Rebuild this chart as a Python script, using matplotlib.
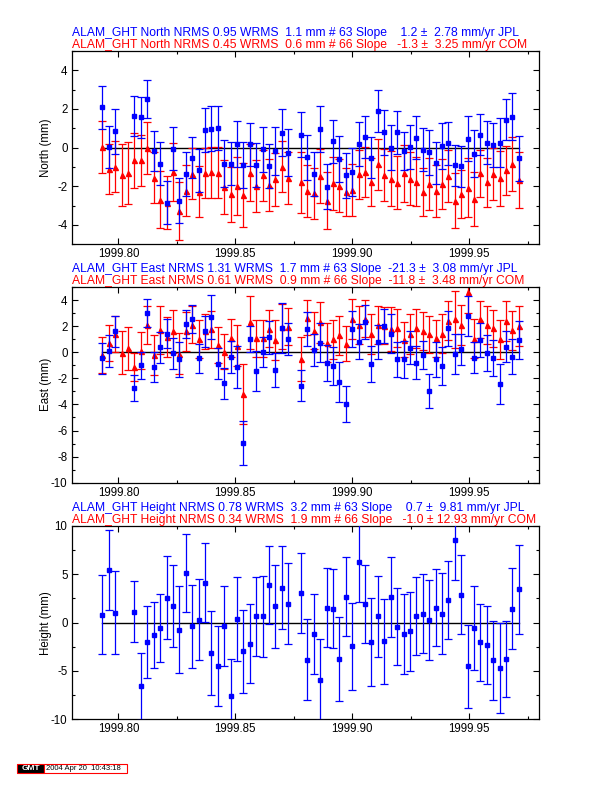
import numpy as np
import matplotlib
matplotlib.use('Agg')
import matplotlib.pyplot as plt
from matplotlib.ticker import MultipleLocator, FormatStrFormatter
from matplotlib.patches import Rectangle

plt.rcParams['font.family'] = ['Liberation Sans', 'DejaVu Sans']
plt.rcParams['axes.unicode_minus'] = False

nan = np.nan

# day of year 1999, one solution per day
doy = [290, 291, 292, 293, 294, 295, 296, 297, 298, 299,
       300, 301, 302, 303, 304, 305, 306, 307, 308, 309,
       310, 311, 312, 313, 314, 315, 316, 317, 318, 319,
       320, 321, 322, 323, 324, 325, 326, 327, 328, 329,
       330, 331, 332, 333, 334, 335, 336, 337, 338, 339,
       340, 341, 342, 343, 344, 345, 346, 347, 348, 349,
       350, 351, 352, 353, 354, 355]

# North (mm)
north_jpl = [2.08, 0.03, 0.84, nan, nan, 1.64, 1.57, 2.51, -0.19, -0.82,
             -2.84, -0.05, -2.74, -1.38, -0.51, -1.16, 0.92, 0.97, 1.03, -0.82,
             -0.82, 0.2, -0.9, 0.17, -0.9, -0.09, -0.96, -0.15, 0.77, -0.26,
             nan, 0.67, -0.5, -1.38, 0.97, -2.02, 0.32, -0.6, -1.44, -1.26,
             0.2, 0.56, -0.51, 1.9, 0.79, 0.0, 0.79, -0.17, 0.05, 0.51,
             -0.1, -0.24, -0.8, 0.09, 0.22, -0.92, -0.97, 0.46, -0.31, 0.68,
             0.26, 0.15, 0.26, 1.44, 1.6, -0.56]
north_jpl_err = [1.13, 1.1, 1.15, nan, nan, 1.03, 1.06, 1.0, 1.03, 1.1,
                 1.12, 1.13, 1.15, 1.14, 1.07, 1.11, 1.14, 1.16, 1.15, 1.21,
                 1.11, 1.19, 1.2, 1.13, 1.15, 1.18, 1.15, 1.24, 1.22, 1.22,
                 nan, 1.16, 1.17, 1.14, 1.17, 1.15, 1.1, 1.2, 1.14, 1.24,
                 1.13, 1.1, 1.08, 1.1, 1.18, 1.15, 1.13, 1.0, 1.13, 1.12,
                 1.1, 1.15, 1.1, 1.2, 1.13, 1.07, 1.08, 1.17, 1.21, 1.08,
                 1.12, 1.13, 1.28, 1.06, 1.21, 1.18]
north_com = [0.03, -1.1, -1.0, -1.42, -1.33, -0.65, -0.66, 0.0, -1.55, -2.7,
             -2.86, -1.28, -3.27, -2.23, -1.36, -2.27, -1.3, -1.27, -1.3, -2.02,
             -2.42, -1.98, -2.43, -1.3, -1.97, -1.42, -1.93, -1.64, -1.0, -1.56,
             nan, -1.8, -2.24, -2.36, -1.47, -2.74, -1.85, -1.97, -2.29, -2.19,
             -1.38, -1.26, -1.76, -0.85, -1.42, -1.6, -1.81, -1.32, -1.6, -1.76,
             -2.29, -1.88, -2.26, -1.88, -1.47, -2.74, -2.38, -2.07, -2.65, -1.32,
             -1.8, -1.35, -1.59, -1.16, -0.85, -1.69]
north_com_err = [1.33, 1.3, 1.32, 1.62, 1.61, 1.43, 1.32, 1.34, 1.3, 1.48,
                 1.37, 1.5, 1.5, 1.32, 1.32, 1.34, 1.28, 1.31, 1.31, 1.39,
                 1.43, 1.48, 1.66, 1.47, 1.34, 1.32, 1.36, 1.37, 1.32, 1.36,
                 nan, 1.6, 1.34, 1.31, 1.41, 1.48, 1.35, 1.38, 1.25, 1.35,
                 1.27, 1.3, 1.25, 1.32, 1.35, 1.43, 1.37, 1.47, 1.35, 1.28,
                 1.25, 1.35, 1.35, 1.31, 1.35, 1.41, 1.24, 1.54, 1.41, 1.21,
                 1.28, 1.35, 1.44, 1.27, 1.39, 1.44]

# East (mm)
east_jpl = [-0.46, 0.1, 1.59, nan, nan, -2.76, -1.0, 3.0, -1.15, 0.38,
            1.41, -0.08, -0.54, 2.15, 2.56, -0.46, 1.59, 2.69, -0.87, -2.38,
            -0.36, -1.15, -6.93, 1.0, -1.43, 0.03, 1.15, -1.38, 1.84, 1.0,
            nan, -2.58, 1.79, 0.18, 0.74, -0.84, -1.05, -2.28, -3.99, 1.79,
            0.82, 2.33, -0.9, 0.77, 2.02, 1.41, -0.54, -0.54, 0.36, -0.79,
            -0.2, -2.97, -0.54, -1.05, 1.82, -0.13, 0.23, 2.79, -0.43, 0.92,
            -0.08, -0.46, -2.43, 0.41, -0.33, 0.95]
east_jpl_err = [1.2, 1.2, 1.2, nan, nan, 1.0, 1.05, 1.05, 1.15, 1.18,
                1.1, 1.2, 1.35, 1.06, 1.09, 1.1, 1.2, 1.68, 1.2, 1.18,
                1.2, 1.6, 1.69, 1.0, 1.55, 1.15, 1.25, 1.3, 1.9, 1.22,
                nan, 1.19, 1.28, 1.21, 1.47, 1.38, 1.45, 1.53, 1.37, 1.39,
                1.37, 1.3, 1.35, 1.28, 1.3, 1.5, 1.36, 1.43, 1.28, 1.29,
                1.09, 1.28, 1.34, 1.43, 1.34, 1.51, 1.19, 1.51, 1.19, 1.29,
                1.38, 1.39, 1.5, 1.18, 1.32, 1.45]
east_com = [-0.2, 0.69, 1.41, -0.03, 0.3, -1.13, 0.13, 2.1, -0.2, 1.71,
            1.18, 1.59, -0.1, 1.59, 2.12, 1.02, 1.59, 1.76, 0.56, 0.05,
            1.07, 0.51, -3.2, 2.28, 1.07, 1.07, 1.79, 0.95, 1.94, 1.97,
            nan, -0.51, 2.66, 1.64, 2.28, 0.74, 1.0, 1.3, 0.66, 2.53,
            2.07, 2.56, 1.43, 2.07, 2.02, 1.79, 1.87, 0.97, 1.41, 1.82,
            1.64, 1.36, 1.07, 1.43, 2.43, 2.53, 2.07, 4.6, 1.05, 2.53,
            2.1, 1.82, 1.0, 2.4, 1.69, 2.02]
east_com_err = [1.4, 1.38, 1.38, 1.64, 1.66, 1.1, 1.4, 1.47, 1.55, 1.85,
                1.53, 1.64, 1.6, 1.46, 1.41, 1.47, 1.35, 1.43, 1.37, 1.36,
                1.47, 1.6, 2.28, 2.02, 1.42, 1.41, 1.42, 1.51, 1.73, 1.41,
                nan, 1.68, 1.34, 1.41, 1.56, 1.5, 1.5, 1.5, 1.37, 1.53,
                1.45, 1.41, 1.53, 1.47, 1.41, 1.66, 1.47, 1.34, 1.53, 1.53,
                1.47, 1.41, 1.41, 1.47, 1.47, 2.17, 1.53, 1.6, 1.47, 1.41,
                1.45, 1.4, 1.5, 1.55, 1.5, 1.55]

# Height (mm), only JPL is drawn
up_jpl = [0.83, 5.42, 1.04, nan, nan, 1.14, -6.59, -1.97, -1.31, -0.52,
          2.59, 1.73, -0.72, 5.11, -0.38, 0.31, 4.14, -3.1, -4.49, -0.35,
          -7.63, 0.35, -2.97, -2.17, 0.66, 0.66, 3.93, 1.69, 3.62, 1.97,
          nan, 3.1, -3.83, -1.14, -5.9, 1.55, 1.45, -3.73, 2.69, -2.45,
          6.28, 1.97, -2.0, 0.66, -1.93, 2.69, -0.41, -1.14, -0.9, 0.66,
          0.93, 0.24, 1.55, 0.93, 2.31, 8.59, 2.9, -4.52, -0.55, -2.04,
          -2.28, -3.9, -4.66, -3.73, 1.45, 3.45]
up_jpl_err = [4.05, 4.14, 4.26, nan, nan, 3.14, 3.45, 3.73, 3.42, 3.52,
              4.28, 4.28, 4.47, 4.05, 4.31, 4.17, 4.05, 4.35, 4.14, 4.16,
              3.9, 4.33, 4.3, 4.09, 4.07, 4.19, 4.02, 4.3, 4.31, 4.23,
              nan, 4.14, 4.2, 4.14, 4.17, 4.07, 4.07, 4.33, 4.07, 4.49,
              4.17, 4.03, 4.6, 4.17, 4.38, 4.14, 4.02, 4.14, 4.1, 4.03,
              4.07, 4.14, 4.0, 4.19, 4.03, 4.2, 4.07, 4.26, 4.31, 3.97,
              4.02, 4.1, 4.64, 3.93, 4.2, 4.59]

titles = [
    ("ALAM_GHT North NRMS 0.95 WRMS  1.1 mm # 63 Slope    1.2 \u00b1  2.78 mm/yr JPL",
     "ALAM_GHT North NRMS 0.45 WRMS  0.6 mm # 66 Slope   -1.3 \u00b1  3.25 mm/yr COM"),
    ("ALAM_GHT East NRMS 1.31 WRMS  1.7 mm # 63 Slope  -21.3 \u00b1  3.08 mm/yr JPL",
     "ALAM_GHT East NRMS 0.61 WRMS  0.9 mm # 66 Slope  -11.8 \u00b1  3.48 mm/yr COM"),
    ("ALAM_GHT Height NRMS 0.78 WRMS  3.2 mm # 63 Slope    0.7 \u00b1  9.81 mm/yr JPL",
     "ALAM_GHT Height NRMS 0.34 WRMS  1.9 mm # 66 Slope   -1.0 \u00b1 12.93 mm/yr COM"),
]
ylabels = ['North (mm)', 'East (mm)', 'Height (mm)']

t = 1999 + (np.array(doy) - 0.5) / 365.0

W, H = 612, 792
fig = plt.figure(figsize=(W / 100, H / 100), dpi=100)

# axes boxes in pixels: top, bottom
boxes = [(51, 244.3), (287, 482.7), (526, 719.3)]
x0, x1 = 71.7, 539.3

panels = [
    (north_jpl, north_jpl_err, north_com, north_com_err, (-5, 5), 2, 1),
    (east_jpl, east_jpl_err, east_com, east_com_err, (-10, 5), 2, 1),
    (up_jpl, up_jpl_err, None, None, (-10, 10), 5, 2.5),
]

for i, (jpl, jerr, com, cerr, ylim, major, minor) in enumerate(panels):
    top, bot = boxes[i]
    ax = fig.add_axes([x0 / W, 1 - bot / H, (x1 - x0) / W, (bot - top) / H])

    ax.plot([t[0], t[-1]], [0, 0], color='black', lw=1.0, zorder=1)

    if com is not None:
        c = np.array(com)
        ok = ~np.isnan(c)
        ax.errorbar(t[ok], c[ok], yerr=np.array(cerr)[ok], fmt='^', color='red',
                    ms=3.6, elinewidth=0.9, capsize=2.8, capthick=0.9, zorder=2)
    j = np.array(jpl)
    ok = ~np.isnan(j)
    ax.errorbar(t[ok], j[ok], yerr=np.array(jerr)[ok], fmt='s', color='blue',
                ms=2.3, elinewidth=0.9, capsize=2.8, capthick=0.9, zorder=3)

    ax.set_xlim(1999.78, 1999.98)
    ax.set_ylim(*ylim)
    ax.xaxis.set_major_locator(MultipleLocator(0.05))
    ax.xaxis.set_minor_locator(MultipleLocator(0.025))
    ax.xaxis.set_major_formatter(FormatStrFormatter('%.2f'))
    ax.yaxis.set_major_locator(MultipleLocator(major))
    ax.yaxis.set_minor_locator(MultipleLocator(minor))
    ax.yaxis.set_major_formatter(FormatStrFormatter('%g'))
    ax.tick_params(which='both', direction='in', top=True, right=True,
                   labelsize=8.3, width=0.8, pad=3)
    ax.tick_params(which='major', length=4)
    ax.tick_params(which='minor', length=2.5)
    for s in ax.spines.values():
        s.set_linewidth(0.9)

    ax.set_ylabel(ylabels[i], fontsize=8.3)
    ax.yaxis.set_label_coords(-0.043, 0.5)

    fig.text(x0 / W, 1 - (top - 15) / H, titles[i][0], color='blue',
             fontsize=8.7, va='baseline', ha='left')
    fig.text(x0 / W, 1 - (top - 3.4) / H, titles[i][1], color='red',
             fontsize=8.7, va='baseline', ha='left')

# GMT time stamp
fig.patches.append(Rectangle((17.3 / W, 1 - 773.3 / H), 27 / W, 9.3 / H,
                             transform=fig.transFigure, facecolor='black',
                             edgecolor='red', lw=0.8))
fig.patches.append(Rectangle((44.3 / W, 1 - 773.3 / H), 82.4 / W, 9.3 / H,
                             transform=fig.transFigure, facecolor='white',
                             edgecolor='red', lw=0.8))
fig.text(30.8 / W, 1 - 768.7 / H, 'GMT', color='white', fontsize=6,
         fontweight='bold', ha='center', va='center')
fig.text(46.5 / W, 1 - 768.7 / H, '2004 Apr 20  10:43:18', color='black',
         fontsize=5.5, ha='left', va='center')

fig.savefig('out.png', dpi=100)
